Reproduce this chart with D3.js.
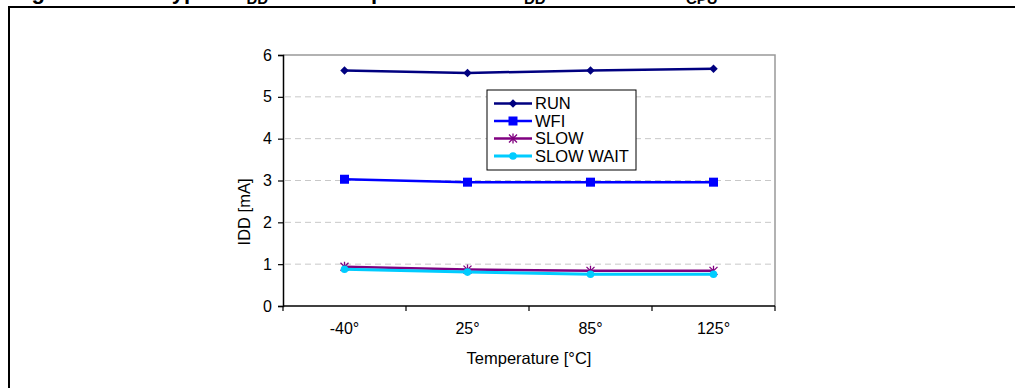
<!DOCTYPE html>
<html>
<head>
<meta charset="utf-8">
<script src="https://cdn.jsdelivr.net/npm/d3@7"></script>
<style>
  html, body { margin: 0; padding: 0; background: #fff; }
  svg { display: block; font-family: "Liberation Sans", Arial, Helvetica, sans-serif; }
</style>
</head>
<body>
<svg id="chart" width="1015" height="388"></svg>
<script>
// ---- data ----
const categories = ["-40°", "25°", "85°", "125°"];
const seriesNames = ["RUN", "WFI", "SLOW", "SLOW WAIT"];
const runValues = [5.63, 5.57, 5.63, 5.67];
const wfiValues = [3.03, 2.96, 2.96, 2.96];
const slowValues = [0.94, 0.87, 0.84, 0.84];
const slowWaitValues = [0.88, 0.81, 0.76, 0.76];
const yTicks = [0, 1, 2, 3, 4, 5, 6];
const gridValues = [1, 2, 3, 4, 5];
const xTitle = "Temperature [°C]";
const yTitle = "IDD [mA]";

const series = [
  { name: seriesNames[0], values: runValues, color: "#000080", marker: "diamond", width: 2.5 },
  { name: seriesNames[1], values: wfiValues, color: "#0000FF", marker: "square", width: 2.5 },
  { name: seriesNames[2], values: slowValues, color: "#800080", marker: "asterisk", width: 2.5 },
  { name: seriesNames[3], values: slowWaitValues, color: "#00CCFF", marker: "circle", width: 3 }
];

const svg = d3.select("#chart");

// ---- partially visible caption (clipped at top) ----
const cap = svg.append("text").attr("y", -1).attr("font-weight", "bold")
  .attr("font-size", 22).attr("fill", "#000");
cap.append("tspan").attr("x", 12).text("Figure 72.");
cap.append("tspan").attr("x", 160).text("Typical I");
cap.append("tspan").attr("font-size", 15).attr("dy", 5).text("DD");
cap.append("tspan").attr("dy", -5).text(" vs. tem");
cap.append("tspan").attr("x", 371).text("perature at V");
cap.append("tspan").attr("x", 524).attr("font-size", 15).attr("dy", 5).text("DD");
cap.append("tspan").attr("dy", -5).text(" = 5 V and f");
cap.append("tspan").attr("x", 686).attr("font-size", 15).attr("dy", 5).text("CPU");
cap.append("tspan").attr("dy", -5).text(" = 8 MHz");

// ---- outer frame ----
svg.append("path").attr("d", "M9,400 L9,7 L1020,7")
  .attr("fill", "none").attr("stroke", "#000").attr("stroke-width", 2);

// ---- plot area ----
const pLeft = 283, pRight = 775, pTop = 55, pBottom = 306;
const x = d3.scaleBand().domain(categories).range([pLeft, pRight]);
const y = d3.scaleLinear().domain([0, 6]).range([pBottom, pTop]);

// gridlines
svg.append("g").selectAll("line").data(gridValues).join("line")
  .attr("x1", pLeft + 2).attr("x2", pRight - 2)
  .attr("y1", d => y(d)).attr("y2", d => y(d))
  .attr("stroke", "#c8c8c8").attr("stroke-width", 1).attr("stroke-dasharray", "6,4");

// top & right border (gray)
svg.append("path")
  .attr("d", `M${pLeft},${y(6)} L${pRight},${y(6)} L${pRight},${pBottom}`)
  .attr("fill", "none").attr("stroke", "#999").attr("stroke-width", 1.5);

// y axis
const yAxis = d3.axisLeft(y).tickValues(yTicks).tickFormat(d3.format("d")).tickSize(5).tickPadding(6);
const gy = svg.append("g").attr("transform", `translate(${pLeft},0)`).call(yAxis);
gy.select(".domain").attr("stroke", "#000").attr("stroke-width", 1.5);
gy.selectAll(".tick line").attr("stroke", "#000").attr("stroke-width", 1.2);
gy.selectAll(".tick text").attr("font-size", 16).attr("fill", "#000")
  .attr("font-family", "Liberation Sans, Arial, sans-serif");

// x axis: ticks at band boundaries, labels at centers
const gx = svg.append("g").attr("transform", `translate(0,${pBottom})`);
gx.append("line").attr("x1", pLeft).attr("x2", pRight).attr("stroke", "#000").attr("stroke-width", 1.5);
const boundaries = categories.map(c => x(c)).concat([x(categories[categories.length - 1]) + x.bandwidth()]);
gx.selectAll("line.tk").data(boundaries).join("line").attr("class", "tk")
  .attr("x1", d => d).attr("x2", d => d).attr("y1", 0).attr("y2", 5)
  .attr("stroke", "#000").attr("stroke-width", 1.2);
gx.selectAll("text").data(categories).join("text")
  .attr("x", d => x(d) + x.bandwidth() / 2).attr("y", 28)
  .attr("text-anchor", "middle").attr("font-size", 16).attr("fill", "#000").text(d => d);

// axis titles
svg.append("text").attr("x", (pLeft + pRight) / 2).attr("y", 364)
  .attr("text-anchor", "middle").attr("font-size", 16.5).text(xTitle);
svg.append("text").attr("transform", `translate(250,212) rotate(-90)`)
  .attr("text-anchor", "middle").attr("font-size", 16.5).text(yTitle);

// ---- markers ----
function drawMarker(g, type, color, cx, cy) {
  if (type === "diamond") {
    g.append("path").attr("d", d3.symbol(d3.symbolSquare, 36)())
      .attr("transform", `translate(${cx},${cy}) rotate(45)`).attr("fill", color);
  } else if (type === "square") {
    g.append("rect").attr("x", cx - 4.5).attr("y", cy - 4.5).attr("width", 9).attr("height", 9).attr("fill", color);
  } else if (type === "circle") {
    g.append("circle").attr("cx", cx).attr("cy", cy).attr("r", 3.8).attr("fill", color);
  } else if (type === "asterisk") {
    const r = 4;
    g.append("path")
      .attr("d", `M${cx - r},${cy - r}L${cx + r},${cy + r}M${cx - r},${cy + r}L${cx + r},${cy - r}M${cx},${cy - r - 1}L${cx},${cy + r + 1}`)
      .attr("stroke", color).attr("stroke-width", 1.3).attr("fill", "none");
  }
}

// ---- series ----
const line = d3.line().x((d, i) => x(categories[i]) + x.bandwidth() / 2).y(d => y(d));
series.forEach(s => {
  const g = svg.append("g");
  g.append("path").attr("d", line(s.values)).attr("fill", "none")
    .attr("stroke", s.color).attr("stroke-width", s.width);
  s.values.forEach((v, i) => drawMarker(g, s.marker, s.color, x(categories[i]) + x.bandwidth() / 2, y(v)));
});

// ---- legend ----
const lg = svg.append("g");
lg.append("rect").attr("x", 487).attr("y", 90).attr("width", 149).attr("height", 80)
  .attr("fill", "#fff").attr("stroke", "#000").attr("stroke-width", 1);
const legendY = d3.scalePoint().domain(seriesNames).range([103.5, 156]);
series.forEach(s => {
  const ly = legendY(s.name);
  lg.append("line").attr("x1", 494).attr("x2", 532).attr("y1", ly).attr("y2", ly)
    .attr("stroke", s.color).attr("stroke-width", s.width);
  drawMarker(lg, s.marker, s.color, 513, ly);
  lg.append("text").attr("x", 535).attr("y", ly).attr("dy", "0.36em")
    .attr("font-size", 16.5).attr("fill", "#000").text(s.name);
});
</script>
</body>
</html>
